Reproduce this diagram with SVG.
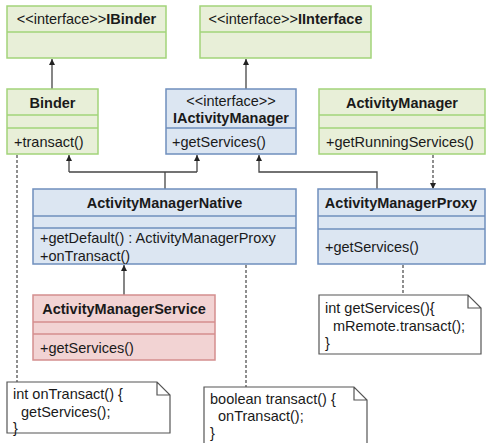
<svg xmlns="http://www.w3.org/2000/svg" width="486" height="443" viewBox="0 0 486 443">
  <defs>
    <marker id="tri" viewBox="0 0 8 8" refX="8" refY="4" markerWidth="6" markerHeight="6" orient="auto" markerUnits="userSpaceOnUse">
      <path d="M0,0 L8,4 L0,8 z" fill="#222"/>
    </marker>
  </defs>
  <style>
    text { font-family: "Liberation Sans", Arial, sans-serif; font-size: 14.5px; fill: #1a1a1a; }
    .b { font-weight: bold; }
    .c { text-anchor: middle; }
    .green { fill: #e8efd8; stroke: #a2d47a; stroke-width: 1.5; }
    .greenl { stroke: #a2d47a; stroke-width: 1.5; }
    .blue { fill: #dce6f2; stroke: #6f8fbd; stroke-width: 1.5; }
    .bluel { stroke: #6f8fbd; stroke-width: 1.5; }
    .red { fill: #f2d3d3; stroke: #d48e8e; stroke-width: 1.5; }
    .redl { stroke: #d48e8e; stroke-width: 1.5; }
    .note { fill: #fff; stroke: #555; stroke-width: 1.2; }
    .edge { fill: none; stroke: #444; stroke-width: 1.3; }
    .dash { fill: none; stroke: #444; stroke-width: 1.2; stroke-dasharray: 3 2; }
  </style>

  <g id="connectors">
    <path class="edge" d="M52,89 V59" marker-end="url(#tri)"/>
    <path class="edge" d="M246,89 V59" marker-end="url(#tri)"/>
    <path class="edge" d="M165,189 V172"/>
    <path class="edge" d="M69,172 H197"/>
    <path class="edge" d="M69,172 V155" marker-end="url(#tri)"/>
    <path class="edge" d="M197,172 V155" marker-end="url(#tri)"/>
    <path class="edge" d="M377,189 V172 H259 V155" marker-end="url(#tri)"/>
    <path class="edge" d="M124,295 V265" marker-end="url(#tri)"/>
    <path class="dash" d="M433,155 V189" marker-end="url(#tri)"/>
    <path class="dash" d="M17,155 V382"/>
    <path class="dash" d="M246,265 V387"/>
    <path class="dash" d="M403,265 V295"/>
  </g>

  <g id="IBinder">
    <rect class="green" x="7" y="6" width="159" height="52"/>
    <line class="greenl" x1="7" y1="32" x2="166" y2="32"/>
    <text class="c" x="86.5" y="24">&lt;&lt;interface&gt;&gt;<tspan class="b">IBinder</tspan></text>
  </g>

  <g id="IInterface">
    <rect class="green" x="200" y="6" width="171" height="52"/>
    <line class="greenl" x1="200" y1="32" x2="371" y2="32"/>
    <text class="c" x="285.5" y="24">&lt;&lt;interface&gt;&gt;<tspan class="b">IInterface</tspan></text>
  </g>

  <g id="Binder">
    <rect class="green" x="7" y="89" width="91" height="65"/>
    <line class="greenl" x1="7" y1="115" x2="98" y2="115"/>
    <line class="greenl" x1="7" y1="128" x2="98" y2="128"/>
    <text class="c b" x="52.5" y="108">Binder</text>
    <text x="14" y="147">+transact()</text>
  </g>

  <g id="IActivityManager">
    <rect class="blue" x="166" y="89" width="130" height="65"/>
    <line class="bluel" x1="166" y1="128" x2="296" y2="128"/>
    <text class="c" x="231" y="106">&lt;&lt;interface&gt;&gt;</text>
    <text class="c b" x="231" y="123">IActivityManager</text>
    <text x="172" y="147">+getServices()</text>
  </g>

  <g id="ActivityManager">
    <rect class="green" x="319" y="89" width="166" height="65"/>
    <line class="greenl" x1="319" y1="115" x2="485" y2="115"/>
    <line class="greenl" x1="319" y1="128" x2="485" y2="128"/>
    <text class="c b" x="402" y="108">ActivityManager</text>
    <text x="326" y="147">+getRunningServices()</text>
  </g>

  <g id="ActivityManagerNative">
    <rect class="blue" x="33" y="189" width="263" height="75"/>
    <line class="bluel" x1="33" y1="216" x2="296" y2="216"/>
    <line class="bluel" x1="33" y1="228" x2="296" y2="228"/>
    <text class="c b" x="164.5" y="208">ActivityManagerNative</text>
    <text x="40" y="243">+getDefault() : ActivityManagerProxy</text>
    <text x="40" y="261">+onTransact()</text>
  </g>

  <g id="ActivityManagerProxy">
    <rect class="blue" x="318" y="189" width="167" height="75"/>
    <line class="bluel" x1="318" y1="216" x2="485" y2="216"/>
    <line class="bluel" x1="318" y1="229" x2="485" y2="229"/>
    <text class="c b" x="401" y="208">ActivityManagerProxy</text>
    <text x="325" y="252">+getServices()</text>
  </g>

  <g id="ActivityManagerService">
    <rect class="red" x="33" y="295" width="182" height="65"/>
    <line class="redl" x1="33" y1="322" x2="215" y2="322"/>
    <line class="redl" x1="33" y1="334" x2="215" y2="334"/>
    <text class="c b" x="124" y="314">ActivityManagerService</text>
    <text x="40" y="353">+getServices()</text>
  </g>

  <g id="note-onTransact">
    <path class="note" d="M7,382 H157 L170,395 V433 H7 Z M157,382 V395 H170"/>
    <text x="13" y="399">int onTransact() {</text>
    <text x="21" y="417">getServices();</text>
    <text x="13" y="433">}</text>
  </g>

  <g id="note-transact">
    <path class="note" d="M204,387 H354 L367,400 V446 H204 Z M354,387 V400 H367"/>
    <text x="210" y="404">boolean transact() {</text>
    <text x="218" y="421">onTransact();</text>
    <text x="210" y="438">}</text>
  </g>

  <g id="note-getServices">
    <path class="note" d="M319,295 H468 L481,308 V354 H319 Z M468,295 V308 H481"/>
    <text x="325" y="313">int getServices(){</text>
    <text x="333" y="331">mRemote.transact();</text>
    <text x="325" y="348">}</text>
  </g>
</svg>
